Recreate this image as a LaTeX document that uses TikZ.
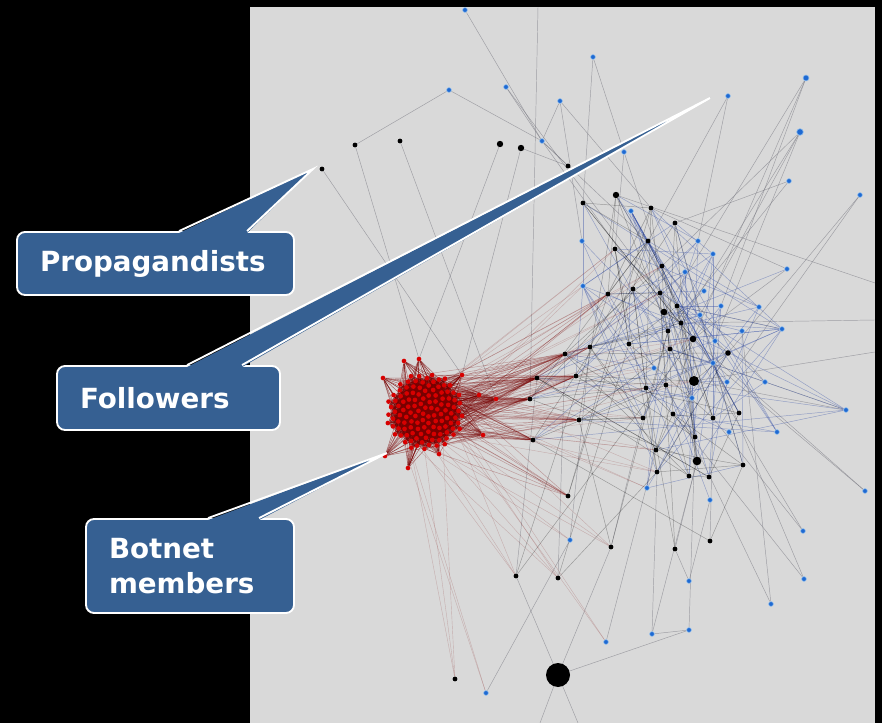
\documentclass[tikz,border=0pt]{standalone}
\usepackage{fontspec}
\newfontfamily\callfont{DejaVu Sans}
\usetikzlibrary{calc, backgrounds}
\definecolor{panel}{RGB}{217,217,217}
\definecolor{callblue}{RGB}{54,96,146}
\definecolor{bluedot}{RGB}{30,105,210}
\definecolor{bluehalo}{RGB}{150,195,240}
\definecolor{reddot}{RGB}{215,0,0}
\definecolor{redmesh}{RGB}{120,0,0}
\definecolor{greyedge}{RGB}{110,110,120}
\definecolor{blueedge}{RGB}{60,85,170}

\begin{document}
\begin{tikzpicture}[x=0.75pt, y=-0.75pt,
  blk/.style={circle, fill=black, inner sep=0pt},
  blu/.style={circle, fill=bluedot, draw=bluehalo, draw opacity=.7, line width=.6pt, inner sep=0pt},
  rdot/.style={circle, fill=reddot, inner sep=0pt, minimum size=3.5pt},
  gedge/.style={draw=greyedge, draw opacity=.55, line width=.35pt},
  bedge/.style={draw=blueedge, draw opacity=.45, line width=.35pt},
  kedge/.style={draw=black, draw opacity=.3, line width=.35pt},
  rmesh/.style={draw=redmesh, draw opacity=.6, line width=.3pt},
  rfan/.style={draw=redmesh, draw opacity=.3, line width=.35pt},
  rthin/.style={draw=redmesh, draw opacity=.2, line width=.3pt},
  callout/.style={rectangle, rounded corners=6pt, fill=callblue, draw=white, line width=1.4pt, text=white, align=left, inner xsep=17.25pt, font={\callfont\bfseries\fontsize{20.8}{26}\selectfont}},
  ptr/.style={fill=callblue},
  ptredge/.style={draw=white, line width=1.4pt, line join=miter}]
\useasboundingbox (0,0) rectangle (882,723);

% black accounts (propagandists, followers)
\foreach \n/\x/\y/\s in {1/322/169/3.6, 2/355/145/3.6, 3/400/141/3.6, 4/500/144/4.8, 5/521/148/4.8,
  6/568/166/3.6, 7/583/203/3.6, 8/616/195/4.8, 9/651/208/3.6, 10/675/223/3.6, 11/648/241/3.6,
  12/615/249/3.6, 13/662/266/3.6, 14/608/294/3.6, 15/633/289/3.6, 16/660/293/3.6, 17/677/306/3.6,
  18/664/312/5, 19/681/323/3.6, 20/668/331/3.6, 21/693/339/5, 22/670/349/3.6, 23/728/353/4.2,
  24/590/347/3.6, 25/629/344/3.6, 26/565/354/3.6, 27/576/376/3.6, 28/537/378/3.6, 29/694/381/7.5,
  30/666/385/3.6, 31/646/388/3.6, 32/530/399/3.6, 33/579/420/3.6, 34/643/418/3.6, 35/673/414/3.6,
  36/713/418/3.6, 37/739/413/3.6, 38/533/440/3.6, 39/695/437/3.6, 40/656/450/3.6, 41/697/461/6.5,
  42/743/465/3.6, 43/657/472/3.6, 44/689/476/3.6, 45/709/477/3.6, 46/568/496/3.6, 47/611/547/3.6,
  48/675/549/3.6, 49/710/541/3.6, 50/516/576/3.6, 51/558/578/3.6, 52/558/675/18, 53/455/679/3.6}
  \node[blk, minimum size=\s pt] (k\n) at (\x,\y) {};

% blue accounts
\foreach \n/\x/\y/\s in {1/465/10/3.6, 2/593/57/3.6, 3/449/90/3.6, 4/506/87/3.6, 5/560/101/3.6,
  6/542/141/3.6, 7/624/152/3.6, 8/728/96/3.6, 9/806/78/4.5, 10/800/132/5, 11/789/181/3.6,
  12/860/195/3.6, 13/631/211/3.6, 14/582/241/3.6, 15/698/241/3.6, 16/713/254/3.6, 17/685/272/3.6,
  18/787/269/3.6, 19/583/286/3.6, 20/704/291/3.6, 21/721/306/3.6, 22/700/315/3.6, 23/759/307/3.6,
  24/742/331/3.6, 25/782/329/3.6, 26/715/341/3.6, 27/654/368/3.6, 28/713/363/3.6, 29/727/382/3.6,
  30/765/382/3.6, 31/692/398/3.6, 32/729/432/3.6, 33/777/432/3.6, 34/846/410/3.6, 35/647/488/3.6,
  36/710/500/3.6, 37/865/491/3.6, 38/570/540/3.6, 39/803/531/3.6, 40/689/581/3.6, 41/804/579/3.6,
  42/771/604/3.6, 43/606/642/3.6, 44/652/634/3.6, 45/689/630/3.6, 46/486/693/3.6}
  \node[blu, minimum size=\s pt] (u\n) at (\x,\y) {};

% botnet cluster
\foreach \i in {1,...,120}{
  \pgfmathsetmacro\rr{39*sqrt((\i-0.5)/120)}
  \pgfmathsetmacro\aa{2*mod(\i*68.754,180)}
  \pgfmathsetmacro\px{425+\rr*cos(\aa)}
  \pgfmathsetmacro\py{412+\rr*sin(\aa)}
  \node[rdot] (r\i) at (\px,\py) {};
}
\foreach \n/\x/\y in {1/404/361, 2/419/359, 3/383/378, 4/462/375, 5/479/395, 6/496/399,
  7/483/435, 8/408/468, 9/385/456, 10/439/454}
  \node[rdot] (s\n) at (\x,\y) {};

\coordinate (eR1) at (875,283); \coordinate (eR2) at (875,320); \coordinate (eR3) at (875,352);
\coordinate (eB1) at (540,723); \coordinate (eB2) at (578,723); \coordinate (eT1) at (538,7);

\begin{pgfonlayer}{background}
\fill[black] (0,0) rectangle (882,723);
\fill[panel] (250,7) rectangle (875,723);
% outer links
\foreach \a/\b in {u1/u6, u2/k7, u3/k2, u3/u6, u4/u6, u4/k16, u5/u6, u5/k9, u5/u14, u6/k6, u6/k11,
  u6/k18, u7/k13, u7/k12, u8/k24, u9/k18, u9/k21, u10/k19, u10/u22, u10/u26, u11/k10, u11/k20,
  u12/u29, u12/k23, u18/k9, u18/k21, u25/k17, u30/k13, u34/k22, u34/k29, u37/k21, u37/u28,
  u39/k16, u39/k36, u41/k35, u41/u28, u42/k30, u42/u24, u40/u36, u40/k48, u45/u44, u45/k52,
  u43/k40, k52/k47, k52/k50, k1/s4, k2/s2, k3/s6, k4/s2, k5/s4, k5/k6, u46/u38, u44/k41,
  u45/k39, u44/k43, k47/k34, k48/k41, k49/k36, k50/k28, k51/k26, u38/k24, eR1/k8, eR2/k19,
  eR3/k29, eB1/k52, eB2/k52, eT1/k32, u2/u7, u8/u15, u9/u21, u10/k13}
  \draw[gedge] (\a) -- (\b);
% hub links
\foreach \i in {7,...,45} \foreach \k in {1,2,3}{
  \pgfmathtruncatemacro\j{13+mod(\i*\k*7+\k*5,24)}
  \draw[bedge] (k\i) -- (u\j);
}
\foreach \i in {7,...,51} \foreach \k in {1,2}{
  \pgfmathtruncatemacro\j{7+mod(\i*\k*11+\k*3,39)}
  \ifnum\j=\i\relax\else\draw[kedge] (k\i) -- (k\j);\fi
}
% botnet mesh
\foreach \i in {1,...,120} \foreach \k in {1,...,12}{
  \pgfmathtruncatemacro\j{1+mod(\i+\k*\k*7+\k*11,120)}
  \draw[rmesh] (r\i) -- (r\j);
}
\foreach \n in {1,...,10} \foreach \k in {1,...,16}{
  \pgfmathtruncatemacro\j{1+mod(\n*13+\k*17,120)}
  \draw[rmesh] (s\n) -- (r\j);
}
% botnet -> followers
\foreach \t/\m in {26/18, 27/18, 28/24, 32/24, 33/16, 38/20, 24/8, 14/6, 46/8}
  \foreach \k in {1,...,\m}{
    \pgfmathtruncatemacro\j{1+mod(\t*7+\k*29,120)}
    \draw[rfan] (r\j) -- (k\t);
  }
\foreach \t in {12,13,16,21,29,31,34,40,43,47,50,51,53} \foreach \k in {1,2,3}{
  \pgfmathtruncatemacro\j{1+mod(\t*5+\k*41,120)}
  \draw[rthin] (r\j) -- (k\t);
}
\foreach \t in {19,27,35,38,43,46} \foreach \k in {1,2}{
  \pgfmathtruncatemacro\j{1+mod(\t*3+\k*37,120)}
  \draw[rthin] (r\j) -- (u\t);
}
\end{pgfonlayer}

% callouts
\node[callout, text width=173.25pt, minimum height=47.25pt] (prop) at (155.5,263.5) {Propagandists};
\fill[ptr] ($(prop.north west)+(163,2)$) -- ($(k1)+(-9,0)$) -- ($(prop.north west)+(231,2)$) -- cycle;
\draw[ptredge] ($(prop.north west)+(163,0)$) -- ($(k1)+(-9,0)$) -- ($(prop.north west)+(231,0)$);

\node[callout, text width=132.75pt, minimum height=48pt] (foll) at (168.5,398) {Followers};
\fill[ptr] ($(foll.north west)+(131,2)$) -- ($(u8)+(-18,2)$) -- ($(foll.north west)+(186,2)$) -- cycle;
\draw[ptredge] ($(foll.north west)+(131,0)$) -- ($(u8)+(-18,2)$) -- ($(foll.north west)+(186,0)$);

\node[callout, text width=121.5pt, minimum height=70.5pt] (bot) at (190,566) {Botnet\\members};
\fill[ptr] ($(bot.north west)+(123,2)$) -- ($(s9)+(2,-3)$) -- ($(bot.north west)+(174,2)$) -- cycle;
\draw[ptredge] ($(bot.north west)+(123,0)$) -- ($(s9)+(2,-3)$) -- ($(bot.north west)+(174,0)$);
\end{tikzpicture}
\end{document}
